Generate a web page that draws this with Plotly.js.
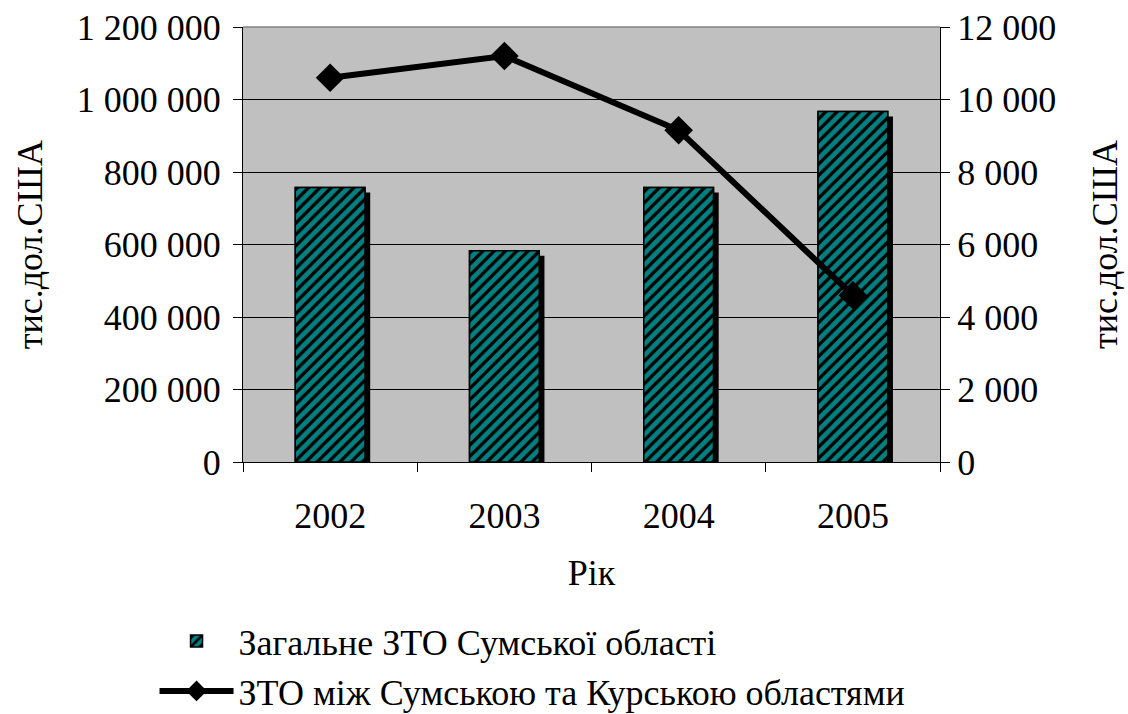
<!DOCTYPE html>
<html>
<head>
<meta charset="utf-8">
<script src="https://cdn.plot.ly/plotly-3.0.1.min.js"></script>
<style>html,body{margin:0;padding:0;background:#fff;}#chart{width:1128px;height:714px;}</style>
</head>
<body>
<div id="chart"></div>
<script>
const years = ['2002', '2003', '2004', '2005'];
const totalTrade = [757000, 583000, 757000, 967000];
const sumyKurskTrade = [10600, 11200, 9150, 4600];
const leftTicks = [0, 200000, 400000, 600000, 800000, 1000000, 1200000];
const leftTickText = ['0', '200 000', '400 000', '600 000', '800 000', '1 000 000', '1 200 000'];
const rightTicks = [0, 2000, 4000, 6000, 8000, 10000, 12000];
const rightTickText = ['0', '2 000', '4 000', '6 000', '8 000', '10 000', '12 000'];
const barName = 'Загальне ЗТО Сумської області';
const lineName = 'ЗТО між Сумською та Курською областями';
const yTitle = 'тис.дол.США';
const xTitle = 'Рік';

const FONT = 'Liberation Serif';
const FS = 36;

const barMarker = {
  color: '#008080',
  line: { color: '#000000', width: 1.5 },
  pattern: { shape: '/', fgcolor: '#000000', bgcolor: '#008080', size: 8, solidity: 0.4 }
};

const traces = [
  { // base bars (legend entry), on the visible left axis
    type: 'bar', x: years, y: totalTrade, xaxis: 'x', yaxis: 'y', name: barName,
    width: 0.4, offset: -0.2, marker: barMarker
  },
  { // drop shadow, same values on a hidden axis whose range is shifted a few pixels
    type: 'bar', x: years, y: totalTrade, xaxis: 'x', yaxis: 'y2',
    width: 0.4, offset: -0.17,
    marker: { color: '#000000', line: { width: 0 } },
    showlegend: false, hoverinfo: 'skip'
  },
  { // bars again above the shadow
    type: 'bar', x: years, y: totalTrade, xaxis: 'x', yaxis: 'y3', name: barName,
    width: 0.4, offset: -0.2, marker: barMarker, showlegend: false
  },
  {
    type: 'scatter', mode: 'lines+markers', x: years, y: sumyKurskTrade, xaxis: 'x', yaxis: 'y4', name: lineName,
    line: { color: '#000000', width: 6 },
    marker: { symbol: 'diamond', size: 22, color: '#000000' }
  }
];

const layout = {
  width: 1128, height: 714,
  margin: { l: 243, r: 188, t: 27, b: 252, autoexpand: false },
  paper_bgcolor: '#ffffff',
  plot_bgcolor: '#c0c0c0',
  font: { family: FONT, size: FS, color: '#000000' },
  barmode: 'overlay',
  showlegend: true,
  legend: {
    orientation: 'v', xref: 'container', yref: 'container',
    x: 0.137, xanchor: 'left', y: 0.144, yanchor: 'top',
    font: { family: FONT, size: FS, color: '#000' }, itemwidth: 74, traceorder: 'normal',
    bgcolor: 'rgba(0,0,0,0)'
  },
  xaxis: {
    type: 'category', showline: true, linecolor: '#000', linewidth: 1,
    ticks: 'outside', tickson: 'boundaries', ticklen: 9, tickcolor: '#000',
    ticklabelstandoff: 22, automargin: true,
    tickfont: { family: FONT, size: FS }, showgrid: false, zeroline: false,
    title: { text: xTitle, font: { family: FONT, size: FS }, standoff: 24 }
  },
  yaxis: {
    range: [0, 1200000], tickvals: leftTicks, ticktext: leftTickText, automargin: true,
    showline: true, linecolor: '#000', linewidth: 1, ticks: 'outside', ticklen: 9, tickcolor: '#000',
    ticklabelstandoff: 5,
    showgrid: true, gridcolor: '#000000', gridwidth: 1, zeroline: false,
    tickfont: { family: FONT, size: FS }
  },
  yaxis2: { overlaying: 'y', range: [13800, 1213800], visible: false },
  yaxis3: { overlaying: 'y', range: [0, 1200000], visible: false },
  yaxis4: {
    overlaying: 'y', side: 'right', range: [0, 12000], tickvals: rightTicks, ticktext: rightTickText,
    automargin: true,
    showline: true, linecolor: '#000', linewidth: 1, ticks: 'outside', ticklen: 9, tickcolor: '#000',
    showgrid: false, zeroline: false, tickfont: { family: FONT, size: FS }
  },
  annotations: [
    { text: yTitle, xref: 'paper', yref: 'paper', x: -0.306, y: 0.5, xanchor: 'center', yanchor: 'middle',
      textangle: -90, showarrow: false, font: { family: FONT, size: FS } },
    { text: yTitle, xref: 'paper', yref: 'paper', x: 1.236, y: 0.5, xanchor: 'center', yanchor: 'middle',
      textangle: -90, showarrow: false, font: { family: FONT, size: FS } }
  ],
  shapes: [
    { type: 'line', xref: 'paper', yref: 'paper', x0: 0, x1: 1, y0: 1, y1: 1, line: { color: '#808080', width: 1.5 } }
  ]
};

Plotly.newPlot('chart', traces, layout, { displayModeBar: false, staticPlot: true });
</script>
</body>
</html>
